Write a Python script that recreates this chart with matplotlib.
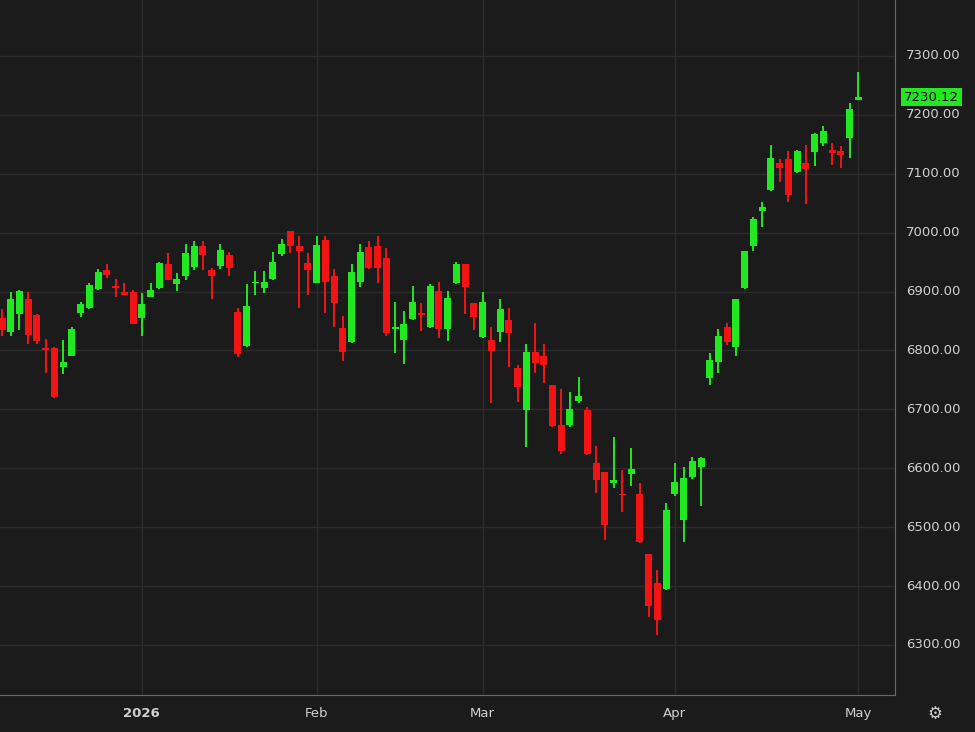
import matplotlib
matplotlib.use("Agg")
import matplotlib.pyplot as plt
import numpy as np

# OHLC, one per trading day (early Dec 2025 .. May 1 2026)
opens = [6855, 6831, 6862, 6887, 6860, 6803, 6804, 6772, 6791, 6864, 6872, 6904, 6937, 6907, 6899, 6899,
         6855, 6891, 6906, 6947, 6913, 6926, 6942, 6977, 6937, 6943, 6962, 6865, 6808, 6914, 6906, 6921,
         6964, 7003, 6977, 6949, 6915, 6988, 6926, 6838, 6814, 6916, 6976, 6977, 6957, 6837, 6818, 6853,
         6863, 6840, 6901, 6836, 6915, 6947, 6881, 6823, 6818, 6831, 6852, 6770, 6699, 6797, 6791, 6741,
         6673, 6673, 6714, 6699, 6609, 6594, 6575, 6556, 6590, 6556, 6454, 6405, 6395, 6556, 6512, 6585,
         6602, 6753, 6780, 6840, 6806, 6906, 6977, 7037, 7072, 7118, 7125, 7103, 7118, 7137, 7152, 7140,
         7139, 7161, 7225]
highs = [6870, 6899, 6903, 6899, 6862, 6819, 6806, 6818, 6840, 6883, 6915, 6938, 6947, 6921, 6914, 6902,
         6898, 6914, 6951, 6966, 6931, 6981, 6986, 6986, 6940, 6981, 6967, 6872, 6913, 6935, 6935, 6967,
         6990, 7003, 6994, 6965, 6994, 6994, 6938, 6858, 6947, 6981, 6986, 6994, 6974, 6882, 6867, 6909,
         6881, 6913, 6916, 6901, 6950, 6947, 6881, 6899, 6840, 6887, 6872, 6775, 6811, 6847, 6811, 6741,
         6735, 6730, 6755, 6704, 6638, 6594, 6653, 6597, 6634, 6575, 6454, 6427, 6541, 6609, 6602, 6619,
         6619, 6796, 6836, 6847, 6887, 6969, 7027, 7052, 7149, 7125, 7139, 7141, 7149, 7169, 7181, 7152,
         7147, 7220, 7273]
lows = [6825, 6825, 6835, 6811, 6811, 6762, 6720, 6760, 6790, 6856, 6870, 6902, 6923, 6891, 6894, 6845,
        6825, 6891, 6905, 6920, 6901, 6920, 6937, 6937, 6887, 6939, 6926, 6789, 6806, 6894, 6898, 6919,
        6960, 6965, 6872, 6894, 6914, 6864, 6840, 6782, 6812, 6908, 6938, 6914, 6825, 6796, 6777, 6851,
        6833, 6838, 6821, 6816, 6913, 6862, 6835, 6821, 6711, 6814, 6772, 6713, 6636, 6762, 6745, 6670,
        6624, 6670, 6711, 6622, 6558, 6478, 6567, 6526, 6570, 6473, 6348, 6317, 6393, 6553, 6475, 6582,
        6536, 6741, 6762, 6809, 6791, 6904, 6969, 7010, 7070, 7086, 7052, 7101, 7049, 7113, 7147, 7115,
        7110, 7127, 7225]
closes = [6835, 6887, 6901, 6826, 6816, 6801, 6721, 6780, 6836, 6879, 6911, 6933, 6928, 6906, 6894, 6845,
          6879, 6903, 6949, 6920, 6921, 6965, 6977, 6962, 6926, 6971, 6940, 6794, 6875, 6916, 6916, 6950,
          6981, 6977, 6969, 6937, 6979, 6916, 6881, 6797, 6933, 6967, 6940, 6940, 6830, 6839, 6845, 6882,
          6861, 6909, 6836, 6889, 6947, 6908, 6857, 6882, 6799, 6870, 6830, 6738, 6797, 6779, 6775, 6672,
          6629, 6701, 6723, 6624, 6580, 6504, 6580, 6554, 6599, 6475, 6366, 6342, 6529, 6577, 6583, 6612,
          6617, 6784, 6825, 6814, 6887, 6969, 7023, 7044, 7127, 7110, 7064, 7139, 7108, 7168, 7173, 7135,
          7132, 7210, 7230.12]

month_labels = ["2026", "Feb", "Mar", "Apr", "May"]
month_idx = [16, 36, 55, 77, 98]
price_ticks = [6300, 6400, 6500, 6600, 6700, 6800, 6900, 7000, 7100, 7200, 7300]

BG = "#1b1b1b"
GRID = "#2c2c2c"
UP = "#22e822"
DOWN = "#f21414"
TXT = "#d0d0d0"

fig = plt.figure(figsize=(9.75, 7.32), dpi=100, facecolor=BG)
ax = fig.add_axes([0, 1 - 695 / 732, 895 / 975, 695 / 732], facecolor=BG)

o = np.array(opens, float)
h = np.array(highs, float)
l = np.array(lows, float)
c = np.array(closes, float)
x = np.arange(len(o))
col = np.where(c >= o, UP, DOWN)

ax.vlines(x, l, h, colors=col, linewidth=1.4, zorder=2)
body = np.maximum(np.abs(c - o), 3)
ax.bar(x, body, bottom=np.minimum(o, c), width=0.8, color=col, linewidth=0, zorder=3)

ax.set_xlim(-0.23, 102.2)
ax.set_ylim(6215, 7395)

ax.set_yticks(price_ticks)
ax.set_xticks(month_idx)
ax.grid(True, color=GRID, linewidth=1)
ax.tick_params(length=0, labelleft=False, labelbottom=False)
for s in ["top", "left"]:
    ax.spines[s].set_visible(False)
ax.spines["right"].set_color("#6a6a6a")
ax.spines["bottom"].set_color("#6a6a6a")

for p in price_ticks:
    ax.text(1.012, (p - 6215) / (7395 - 6215), f"{p:.2f}", transform=ax.transAxes,
            color=TXT, fontsize=9.5, va="center", ha="left")
for lab, i in zip(month_labels, month_idx):
    ax.text(i, -0.027, lab, transform=ax.get_xaxis_transform(), color=TXT, fontsize=9.5,
            ha="center", va="center", fontweight="bold" if lab == "2026" else "normal")

# last price tag
ax.text(1.01, (c[-1] - 6215) / (7395 - 6215), f"{c[-1]:.2f}", transform=ax.transAxes,
        color="#000000", fontsize=9.5, va="center", ha="left",
        bbox=dict(boxstyle="square,pad=0.2", fc=UP, ec="none"))

# settings icon in the corner
fig.text(935 / 975, 1 - 714 / 732, "⚙", color=TXT, fontsize=12, ha="center", va="center")

fig.savefig("out.png", dpi=100, facecolor=BG)
